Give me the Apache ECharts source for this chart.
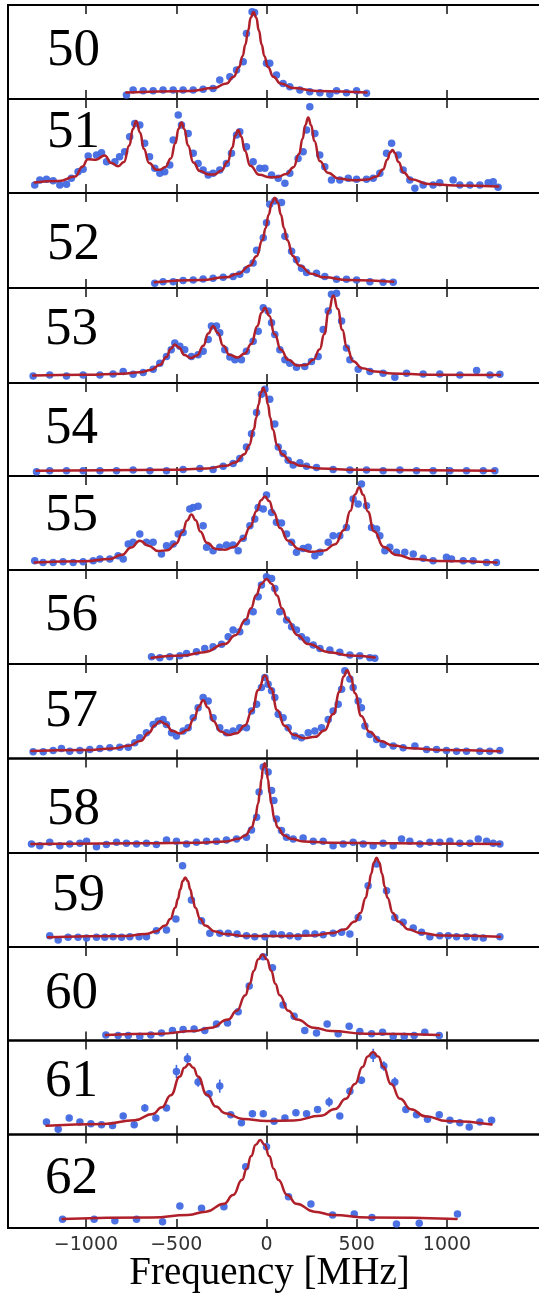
<!DOCTYPE html>
<html><head><meta charset="utf-8">
<script src="https://cdn.jsdelivr.net/npm/echarts@6/dist/echarts.min.js"></script>
<style>html,body{margin:0;padding:0;background:#fff}#c{width:539px;height:1295px}</style>
</head><body><div id="c"></div>
<script>
const panelLabels = ['50','51','52','53','54','55','56','57','58','59','60','61','62'];
const tickValues = [-1000,-500,0,500,1000];
const xTitle = 'Frequency [MHz]';

const dots50 = [[-776,4.3],[-739,9.6],[-683,8.9],[-628,8.9],[-573,9.6],[-517,9.6],[-462,9.6],[-406,9.6],[-351,10.3],[-296,11.3],[-259,20.2],[-203,23.7],[-166,30.8],[-129,39.7],[-111,69.8],[-80,92.8],[-66,92],[0,37.9],[18,37.9],[55,25.5],[92,16.6],[129,13.1],[185,9.6],[240,7.8],[296,6.7],[351,5],[388,8.9],[443,6.7],[499,8.9],[554,6]];
const fit50 = [[-776,7],[-422,8.6],[-292,11.6],[-222,16.6],[-182,23.7],[-152,34.1],[-132,45.8],[-117,58],[-102,72.8],[-87,86.6],[-72,92.5],[-57,86.6],[-42,72.8],[-27,58],[-12,45.8],[8,34.1],[38,23.7],[78,16.6],[148,11.6],[278,8.6],[554,7]];

const dots51 = [[-1284,8.5],[-1256,13.8],[-1219,14.5],[-1182,13.1],[-1145,8.5],[-1108,9.2],[-1081,15.6],[-1044,22.7],[-1016,25.2],[-988,39.3],[-942,40.4],[-914,42.9],[-886,33.3],[-840,33.3],[-814,38.6],[-786,43.9],[-758,59.9],[-730,74],[-702,72.3],[-675,52.8],[-648,38.6],[-619,26.2],[-591,20.9],[-564,22.7],[-536,29.8],[-517,56.3],[-489,82.9],[-471,72.3],[-434,63.4],[-406,42.2],[-379,31.5],[-351,24.4],[-323,19.1],[-296,20.9],[-259,24.4],[-222,31.5],[-194,42.2],[-166,61.6],[-148,65.2],[-111,49.2],[-74,33.3],[-37,26.2],[-9,26.2],[28,19.1],[65,15.6],[102,10.3],[129,20.9],[175,36.8],[203,43.9],[222,67],[240,91.7],[268,63.4],[295,40.4],[323,28],[360,13.8],[406,13.8],[453,15.6],[499,14.5],[554,14.5],[591,15.6],[628,20.9],[665,42.2],[693,52.8],[730,40.4],[757,24.4],[794,13.8],[822,5],[868,8.5],[923,8.5],[960,11],[1034,13.8],[1071,8.5],[1127,8.5],[1182,8.5],[1228,11],[1256,12],[1283,6]];
const fit51 = [[-1284,11.2],[-1150,12.7],[-1060,17.5],[-1020,28],[-990,36],[-945,35.5],[-896,40],[-860,32],[-822,28.5],[-790,33],[-760,50.6],[-740,68],[-722,76.6],[-700,64],[-680,47.2],[-650,31.8],[-610,24.8],[-591,24.8],[-560,27.7],[-530,36.8],[-505,52.9],[-487,68.4],[-471,75],[-455,67.9],[-435,50.6],[-405,32.5],[-370,23.4],[-320,19.7],[-290,19.8],[-250,23.7],[-215,33.3],[-190,48.1],[-173,61.1],[-157,67.1],[-140,60.1],[-120,44.9],[-90,29],[-40,19.4],[20,16.7],[60,16.9],[110,20.2],[150,27.5],[180,41.4],[200,57.8],[215,72.2],[231,80.3],[248,71.7],[265,55.2],[295,34.1],[340,21.6],[400,15.3],[480,13.6],[560,14.3],[610,17.5],[645,25],[670,35.7],[685,43],[698,45.7],[712,42.4],[730,33.3],[760,21.8],[800,14.6],[900,9.5],[1050,7.9],[1284,7]];

const dots52 = [[-619,5],[-573,6.7],[-517,6.7],[-462,7.8],[-406,8.5],[-351,9.6],[-296,10.3],[-240,11.3],[-185,12],[-148,14.5],[-111,19.1],[-74,26.2],[-55,39.7],[-18,52.8],[0,68.7],[18,88.2],[46,91.7],[83,90],[102,54.6],[139,38.6],[166,29.8],[194,20.9],[222,16.3],[277,15.6],[323,12],[388,9.2],[443,9.2],[499,8.5],[573,6.7],[646,6],[702,6]];
const fit52 = [[-619,6],[-362,8.4],[-226,11.2],[-158,14.9],[-90,23.8],[-56,33.4],[-22,50.5],[-5,63],[12,77.2],[29,89.7],[46,95],[63,89.7],[80,77.2],[97,63],[114,50.5],[148,33.4],[182,23.8],[250,14.9],[318,11.2],[454,8.4],[702,6.5]];

const dots53 = [[-1293,7.4],[-1201,8.5],[-1108,7.4],[-1016,8.5],[-923,8.5],[-850,9.6],[-794,12],[-739,9.2],[-683,11],[-628,14.5],[-591,20.9],[-554,28],[-528,35.1],[-508,42.2],[-480,38.6],[-453,35.1],[-416,28],[-379,29.8],[-351,33.3],[-323,45.7],[-305,59.9],[-277,59.9],[-259,52.8],[-231,35.1],[-203,27.3],[-175,24.4],[-139,24.4],[-111,33.3],[-74,43.9],[-46,54.6],[-18,79.3],[9,75.8],[28,63.4],[46,51],[74,35.1],[102,24.4],[129,20.9],[166,16.6],[212,17.4],[249,22.7],[286,28],[314,56.3],[342,75.8],[360,93.5],[388,94.6],[416,65.2],[443,36.8],[462,24.4],[508,14.5],[573,12],[646,10.3],[711,6],[776,10.3],[868,9.6],[960,9.6],[1071,8.5],[1164,13.1],[1238,8.5],[1293,9.2]];
const fit53 = [[-1293,8],[-1000,8.6],[-800,9.7],[-700,11.3],[-640,13.8],[-590,19.1],[-555,27.3],[-530,36],[-508,40.6],[-485,37.3],[-455,29.6],[-420,26.2],[-385,29],[-350,39.2],[-323,52],[-296,59.8],[-270,52.8],[-240,39.1],[-205,29.7],[-160,26.9],[-120,31.1],[-85,41.1],[-50,60.1],[-28,73.9],[-9,79.2],[15,70.9],[45,51.2],[80,34.9],[120,24.5],[170,18.5],[220,19],[260,24.5],[295,35.5],[320,51.5],[345,76],[370,92],[395,78],[420,56],[445,38],[480,23],[530,15.6],[600,12.2],[700,10.1],[900,8.7],[1293,8.5]];

const dots54 = [[-1274,4.6],[-1201,5.7],[-1108,5.7],[-1016,5.7],[-923,5.7],[-831,5.7],[-739,6.4],[-646,5.7],[-554,5.7],[-462,7.1],[-369,8.1],[-296,7.1],[-240,10.6],[-185,13.5],[-148,18.8],[-111,31.2],[-83,45.3],[-55,68.4],[-28,87.8],[-9,93.2],[18,82.5],[46,56],[65,31.2],[92,24.1],[120,17],[148,11.7],[185,14.2],[222,10.6],[277,9.2],[369,7.1],[462,6.4],[554,6.4],[646,5.7],[739,6.4],[831,5.7],[923,5.7],[1016,5.7],[1108,5.7],[1201,5.7],[1265,5.7]];
const fit54 = [[-1274,5.7],[-538,6.6],[-330,8.1],[-226,10.9],[-174,14.6],[-122,23.5],[-96,33.1],[-70,50.2],[-57,62.7],[-44,76.9],[-31,89.5],[-18,94.7],[-5,89.5],[8,76.9],[21,62.7],[34,50.2],[60,33.1],[86,23.5],[138,14.6],[190,10.9],[294,8.1],[502,6.6],[1265,5.7]];

const dots55 = [[-1284,9.9],[-1238,8.1],[-1182,8.1],[-1127,8.9],[-1071,8.1],[-1016,8.9],[-960,9.9],[-923,11.7],[-868,11.7],[-822,15.2],[-794,11.7],[-766,27.6],[-739,29.4],[-702,38.3],[-665,29.4],[-628,29.4],[-582,17],[-554,25.9],[-517,27.6],[-489,38.3],[-462,40],[-425,64.8],[-406,66.6],[-379,67.7],[-351,47.1],[-332,24.1],[-296,20.5],[-259,24.1],[-222,26.6],[-185,26.6],[-157,20.5],[-129,33.7],[-92,47.1],[-65,54.2],[-46,66.6],[-18,64.8],[0,79.7],[28,61.3],[55,50.7],[83,50],[111,38.3],[139,29.4],[166,18.8],[203,23],[231,24.1],[268,15.2],[296,18.8],[342,29.4],[369,36.5],[406,36.5],[443,45.3],[480,75.5],[508,70.1],[526,91.4],[554,68.4],[582,45.3],[610,43.6],[628,36.5],[656,20.5],[683,24.1],[720,18.8],[766,18.8],[813,17],[868,12.4],[923,9.9],[997,13.5],[1025,11.7],[1090,9.9],[1145,9.9],[1219,8.1],[1274,8.1]];
const fit55 = [[-1284,7.9],[-1000,9.3],[-870,11.8],[-800,16.2],[-750,23.9],[-702,31.2],[-655,25.9],[-600,20.2],[-550,21],[-500,28.3],[-465,40.5],[-440,52.7],[-416,59],[-392,53],[-367,41],[-330,28.9],[-280,22.3],[-230,21.6],[-180,24.6],[-130,33.1],[-90,46.1],[-55,62.8],[-30,74.3],[-9,78.3],[15,73.4],[40,61.4],[75,44.7],[120,31],[180,22.4],[250,19.3],[320,20.8],[380,27.5],[430,42.5],[465,63],[490,80.3],[513,87.8],[536,80],[561,62.3],[596,41.2],[650,24.5],[720,16],[820,11.6],[950,9.5],[1274,8]];

const dots56 = [[-637,7.8],[-591,6.7],[-536,7.8],[-480,8.9],[-443,11.3],[-388,13.1],[-342,16.6],[-296,18.4],[-249,20.9],[-212,29],[-185,36.1],[-148,34.4],[-111,45],[-74,55.6],[-46,71.6],[-28,84],[0,92.8],[28,91],[46,80.4],[74,55.6],[111,46.8],[139,39.7],[166,36.1],[194,29],[222,25.5],[259,20.2],[296,16.6],[351,14.9],[406,12.4],[462,9.6],[517,8.9],[573,6.7],[600,6]];
const fit56 = [[-637,6.7],[-460,9.1],[-345,12.6],[-230,21.3],[-172,30.6],[-115,47.2],[-86,59.2],[-58,73],[-29,85.2],[0,90.3],[29,85.2],[58,73],[86,59.2],[115,47.2],[172,30.6],[230,21.3],[345,12.6],[460,9.1],[600,7]];

const dots57 = [[-1293,7.1],[-1237,7.1],[-1182,8.5],[-1136,10.6],[-1090,7.8],[-1034,8.5],[-979,9.6],[-923,10.6],[-868,11.3],[-813,12],[-766,12],[-730,16.6],[-702,22],[-665,27.3],[-628,36.1],[-600,39.7],[-573,41.4],[-554,36.1],[-526,27.3],[-499,23.7],[-462,29],[-434,32.6],[-406,43.2],[-379,53.8],[-351,64.5],[-323,60.9],[-296,43.2],[-259,32.6],[-222,27.3],[-185,29],[-148,32.6],[-111,32.6],[-83,50.3],[-55,57.4],[-28,75.1],[-9,85.7],[9,78.6],[28,71.6],[46,64.5],[65,46.8],[92,43.2],[120,32.6],[157,23.7],[194,22],[231,27.3],[268,29],[305,32.6],[342,41.4],[369,50.3],[397,57.4],[416,73.3],[434,92.8],[462,84],[480,75.1],[508,60.9],[526,53.8],[545,34.4],[573,25.5],[610,20.2],[646,14.9],[702,13.1],[757,11.3],[822,13.1],[887,9.6],[942,9.6],[997,8.5],[1053,7.8],[1108,7.8],[1182,7.8],[1237,7.8],[1293,8.5]];
const fit57 = [[-1302,7.9],[-1000,8.9],[-850,10.7],[-760,13.5],[-700,18.5],[-650,27.4],[-620,35],[-591,39.3],[-560,36.4],[-520,29],[-480,26.5],[-440,30.1],[-400,42.7],[-375,55],[-351,61.6],[-325,54],[-295,39.8],[-255,28.6],[-210,24.9],[-165,26.8],[-120,34.9],[-80,50.5],[-45,72.6],[-9,87.9],[25,73.9],[60,51],[100,34.6],[150,25.1],[210,21.4],[270,22.9],[320,29.5],[370,47],[405,70.6],[427,86.9],[447,93.4],[467,86.4],[490,69],[525,45],[570,28.3],[630,18.5],[700,13.8],[800,10.8],[950,9.1],[1293,7.8]];

const dots58 = [[-1302,9.6],[-1256,7.8],[-1201,11.3],[-1145,7.8],[-1090,9.6],[-1034,10.3],[-997,12.4],[-942,6.7],[-887,8.9],[-831,11.3],[-776,10.3],[-720,9.6],[-665,10.3],[-610,8.9],[-554,13.8],[-499,12.4],[-443,9.6],[-388,11.3],[-332,12.4],[-277,12.4],[-222,13.8],[-166,14.9],[-111,16.6],[-83,24.4],[-55,37.9],[-41,64.5],[-18,91],[9,85.7],[28,66.2],[41,55.6],[55,36.1],[83,23.7],[111,16.6],[148,14.9],[203,15.9],[259,12.4],[314,12.4],[369,7.8],[425,9.6],[480,11.3],[536,9.6],[591,7.8],[646,10.3],[702,7.8],[748,14.9],[794,12.4],[850,9.6],[905,11.3],[960,11.3],[1016,12.4],[1071,10.3],[1127,10.3],[1173,14.9],[1219,12.4],[1256,10.3],[1293,9.6]];
const fit58 = [[-1302,9.5],[-700,10.2],[-370,10.8],[-226,12.3],[-154,15],[-118,18.5],[-82,27],[-64,36.2],[-46,52.5],[-37,64.4],[-28,78],[-19,90],[-10,95],[-1,90],[8,78],[17,64.4],[26,52.5],[44,36.2],[62,27],[98,18.5],[134,15],[206,12.3],[350,10.8],[700,10.2],[1293,9.6]];

const dots59 = [[-1201,12],[-1154,7.4],[-1099,10.3],[-1044,10.3],[-997,9.6],[-942,10.3],[-896,10.3],[-850,11],[-803,10.3],[-757,11],[-706,11],[-665,11],[-610,17.4],[-554,18.1],[-502,29.8],[-465,86.4],[-416,49.9],[-360,28],[-314,14.5],[-259,14.5],[-212,14.5],[-163,13.8],[-111,12],[-65,11],[-9,11],[37,13.8],[83,13.1],[129,12],[175,11],[218,14.5],[268,13.8],[314,13.1],[369,14.5],[416,15.6],[462,13.8],[508,31.5],[563,65.2],[610,88.2],[665,59.9],[711,31.5],[757,26.2],[813,20.2],[859,15.6],[905,11],[960,12],[1007,12],[1053,11],[1108,11],[1154,10.3],[1201,9.6],[1293,11]];
const fit59 = [[-1210,10.5],[-780,11.7],[-670,13.8],[-615,16.4],[-560,22.8],[-533,29.7],[-505,42],[-491,51],[-478,61.2],[-464,70.2],[-450,74],[-436,70.2],[-422,61.2],[-409,51],[-395,42],[-367,29.7],[-340,22.8],[-285,16.4],[-230,13.8],[-120,11.7],[70,11.7],[250,12.3],[370,15],[430,18.5],[490,27],[520,36.2],[550,52.5],[565,64.4],[580,78],[595,90],[610,95],[625,90],[640,78],[655,64.4],[670,52.5],[700,36.2],[730,27],[790,18.5],[850,15],[970,12.3],[1293,10.8]];

const dots60 = [[-890,6],[-822,5.3],[-766,5.3],[-702,4.6],[-641,6],[-582,8.1],[-521,10.6],[-462,11.7],[-401,12.4],[-342,10.6],[-277,17.7],[-216,18.8],[-157,30.8],[-96,58.4],[-18,89.6],[33,77.9],[92,37.9],[153,25.9],[212,10.6],[277,8.1],[336,17.7],[397,7.1],[458,15.2],[517,9.6],[582,7.1],[643,8.9],[702,4.6],[763,4.6],[818,5.3],[877,8.9],[957,5.3]];
const fit60 = [[-890,5.8],[-592,7.3],[-402,10.1],[-307,13.7],[-212,22.4],[-165,31.8],[-117,48.5],[-93,60.7],[-70,74.6],[-46,86.9],[-22,92],[2,86.9],[26,74.6],[49,60.7],[73,48.5],[121,31.8],[168,22.4],[263,13.7],[358,10.1],[548,7.3],[957,5.8]];

const dots61 = [[-1219,13.3],[-1154,5.5],[-1093,17.5],[-1034,13.3],[-973,11.5],[-914,10.4],[-853,9.7],[-794,19.7],[-733,10.4],[-674,28.2],[-613,17.5],[-554,28.2],[-499,67.1],[-438,80.6],[-379,55.8],[-318,43.4],[-259,51.5],[-198,21.1],[-139,12.6],[-78,22.1],[-18,22.1],[42,14],[102,17.5],[163,23.2],[222,22.1],[283,26.7],[347,34.5],[406,19.7],[462,45.9],[526,57.6],[591,84.1],[650,72.8],[711,55.8],[772,26.7],[831,21.1],[892,16.1],[957,21.1],[1016,15.1],[1071,12.6],[1123,8],[1182,13.3],[1247,15.1]];
const err61 = [2,2,2,2,2,2,2,2,2,4,2,3,7,6,5,4,7,2,2,3,3,2,2,2,2,2,5,2,4,4,7,5,5,2,2,2,2,2,2,2,2,2];
const fit61 = [[-1219,9.4],[-900,11.3],[-730,15.2],[-630,21.9],[-580,29],[-530,41.8],[-480,61.7],[-455,71],[-430,75],[-405,71.1],[-380,61.8],[-330,42.2],[-280,29.7],[-230,22.7],[-130,16.6],[0,14.3],[150,15],[300,19.9],[380,27.2],[440,38.1],[490,53.8],[532,71.8],[561,83.1],[590,87.7],[619,83],[648,71.7],[690,53.6],[740,37.9],[800,26.9],[880,19.4],[1000,14.3],[1247,10.7]];

const dots62 = [[-1130,9.3],[-955,9.3],[-840,7.8],[-720,9.3],[-576,6.8],[-480,23.5],[-360,21],[-236,22.8],[-115,65.6],[0,87],[122,33.5],[246,25.7],[366,13.9],[486,15],[584,11.1],[720,4.3],[846,5],[1058,15]];
const fit62 = [[-1130,9.7],[-635,11.3],[-435,14],[-335,17.5],[-235,26],[-185,35.2],[-135,51.5],[-110,63.4],[-85,77],[-60,89],[-35,94],[-10,89],[15,77],[40,63.4],[65,51.5],[115,35.2],[165,26],[265,17.5],[365,14],[565,11.3],[1053,9.7]];

const dotSets = [dots50,dots51,dots52,dots53,dots54,dots55,dots56,dots57,dots58,dots59,dots60,dots61,dots62];
const fitSets = [fit50,fit51,fit52,fit53,fit54,fit55,fit56,fit57,fit58,fit59,fit60,fit61,fit62];

// layout (pixels)
const edges = [5,99,193,288,383,476,570,664,758.5,853,947,1040.5,1134.5,1228];
const labelX = [47,47,47,45,45,45,45,45,47,52,45,45,45];
const labelY = [55,136.5,249,333.5,432.5,519.5,619.5,716,813.5,899.5,998,1085.5,1182.5];
const GL = 8, GW = 540, PXPM = 0.1805, ZERO = 266.5;
const XMIN = (GL - ZERO) / PXPM, XMAX = XMIN + GW / PXPM;

const grids = [], xAxes = [], yAxes = [], series = [], graphics = [];
const fmt = v => String(v).replace('-', '\u2212');
for (let i = 0; i < 13; i++) {
  const top = edges[i], h = edges[i+1] - edges[i];
  grids.push({left: GL, width: GW, top: top, height: h, show: true, borderColor: '#000', borderWidth: 2,
    backgroundColor: 'rgba(0,0,0,0)', containLabel: false, outerBoundsMode: 'none'});
  const last = i === 12;
  const tick = {show: true, inside: true, length: 9, customValues: tickValues, lineStyle: {color: '#111', width: 1.5}};
  xAxes.push({gridIndex: i, type: 'value', min: XMIN, max: XMAX, position: 'bottom',
    axisLine: {show: false}, splitLine: {show: false}, axisTick: tick,
    axisLabel: {show: last, customValues: tickValues, formatter: fmt, color: '#333', fontSize: 19, fontFamily: 'DejaVu Sans', margin: 8}});
  xAxes.push({gridIndex: i, type: 'value', min: XMIN, max: XMAX, position: 'top',
    axisLine: {show: false}, splitLine: {show: false}, axisTick: tick, axisLabel: {show: false}});
  yAxes.push({gridIndex: i, type: 'value', min: 0, max: 100, show: false});
  if (i === 11) {
    series.push({type: 'custom', xAxisIndex: 2*i, yAxisIndex: i, z: 1,
      data: dots61.map((d, k) => [d[0], d[1], err61[k]]),
      renderItem: (params, api) => {
        const a = api.coord([api.value(0), api.value(1) - api.value(2)]);
        const b = api.coord([api.value(0), api.value(1) + api.value(2)]);
        return {type: 'line', shape: {x1: a[0], y1: a[1], x2: b[0], y2: b[1]}, style: {stroke: '#4169e1', lineWidth: 1.6}};
      }});
  }
  series.push({type: 'scatter', xAxisIndex: 2*i, yAxisIndex: i, data: dotSets[i], symbolSize: 7.5,
    itemStyle: {color: '#4169e1', opacity: 0.95}, z: 2, clip: false});
  series.push({type: 'line', xAxisIndex: 2*i, yAxisIndex: i, data: fitSets[i], showSymbol: false,
    smooth: 0.5, smoothMonotone: 'x', lineStyle: {color: '#b0202a', width: 2.5, cap: 'round', join: 'round'}, z: 3, clip: false});
  graphics.push({type: 'text', left: labelX[i], top: labelY[i] - 30, z: 10,
    style: {text: panelLabels[i], font: '53px "Liberation Serif"', fill: '#000'}});
}
graphics.push({type: 'text', left: 'center', top: 1254, z: 10,
  style: {text: xTitle, font: '39px "Liberation Serif"', fill: '#000'}});

const chart = echarts.init(document.getElementById('c'), null, {renderer: 'canvas'});
chart.setOption({animation: false, backgroundColor: '#fff', grid: grids, xAxis: xAxes, yAxis: yAxes, series: series, graphic: graphics});
</script></body></html>
